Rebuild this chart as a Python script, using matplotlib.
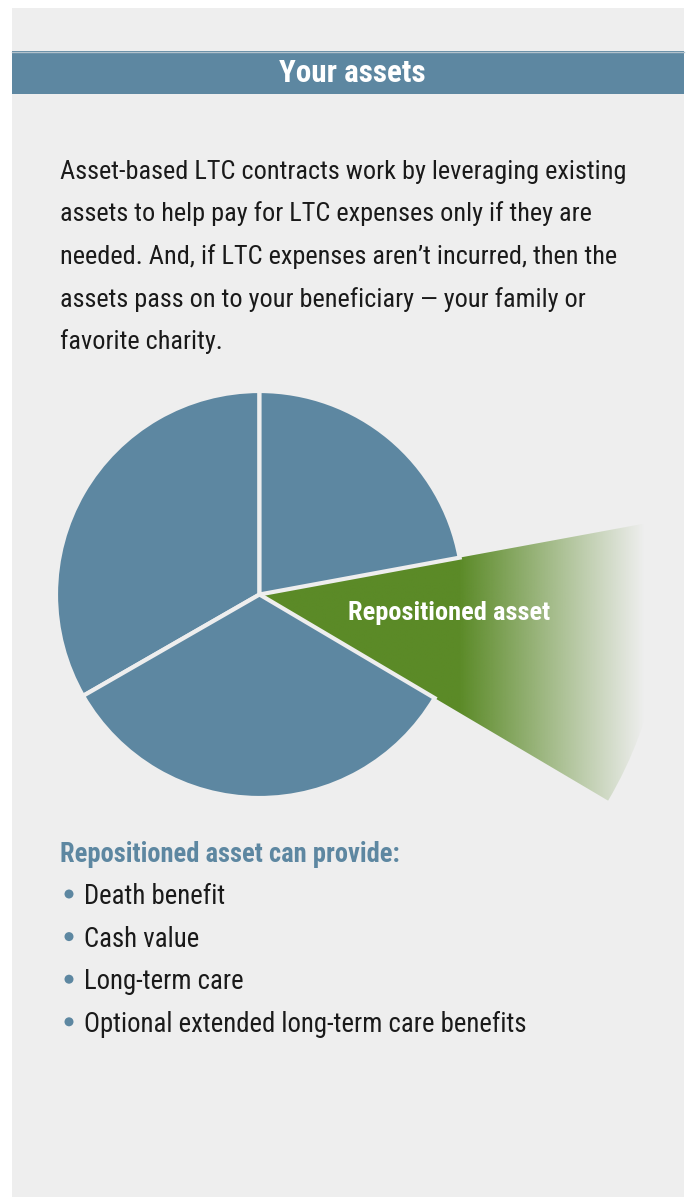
import numpy as np
import matplotlib
matplotlib.use("Agg")
import matplotlib.pyplot as plt
from matplotlib.patches import Rectangle, Circle
from matplotlib import font_manager as fm

# ---------------- data ----------------
title = "Your assets"
paragraph_lines = [
    "Asset-based LTC contracts work by leveraging existing",
    "assets to help pay for LTC expenses only if they are",
    "needed. And, if LTC expenses aren\u2019t incurred, then the",
    "assets pass on to your beneficiary \u2014 your family or",
    "favorite charity.",
]
slice_names = ["Other assets 1", "Other assets 2", "Repositioned asset", "Other assets 3"]
slice_shares = [33.3, 33.2, 11.4, 22.1]
list_heading = "Repositioned asset can provide:"
benefits = ["Death benefit", "Cash value", "Long-term care",
            "Optional extended long-term care benefits"]

# ---------------- style ----------------
W, H = 688, 1197
BLUE = "#5d87a1"
GREEN = "#5b8a27"
PANEL = "#eeeeee"
TEXT = "#1a1a1a"

fonts = [(f.name, f.fname, f.weight, f.stretch) for f in fm.fontManager.ttflist]
cands = [f for f in fonts if ("narrow" in f[1].lower() or "condensed" in f[1].lower()
                              or "Narrow" in f[0] or "Condensed" in f[0])]


def pick(bold):
    pref = ["liberationsansnarrow", "robotocondensed", "opensanscondensed", "dejavusanscondensed"]
    for p in pref:
        for f in cands:
            fn = f[1].split("/")[-1].lower().replace("-", "").replace("_", "")
            if fn.startswith(p):
                isb = "bold" in fn
                isi = "italic" in fn or "oblique" in fn
                if isb == bold and not isi:
                    return fm.FontProperties(fname=f[1])
    return fm.FontProperties(family="DejaVu Sans", weight="bold" if bold else "normal",
                             stretch="condensed")


FP = pick(False)
FPB = pick(True)

fig = plt.figure(figsize=(W / 100, H / 100), dpi=100)
fig.patch.set_facecolor("white")
ax = fig.add_axes([0, 0, 1, 1])


def Y(y):
    return H - y


# panel + header
ax.add_patch(Rectangle((12, 0), 672, H - 8, facecolor=PANEL, edgecolor="none", zorder=0))
ax.add_patch(Rectangle((12, Y(94)), 672, 43, facecolor=BLUE, edgecolor="none", zorder=1))
ax.plot([12, 684], [Y(51.5)] * 2, color="#b3c2cc", lw=1, zorder=2)
ax.text(352, Y(73), title, color="white", fontproperties=FPB, fontsize=22.4,
        ha="center", va="center", zorder=3)

# paragraph
for i, line in enumerate(paragraph_lines):
    ax.text(60, Y(179 + i * 42.5), line, color=TEXT, fontproperties=FP, fontsize=18.9,
            ha="left", va="baseline")

# pie
cx, cy, r = 259.5, Y(594.5), 203.5
wedges, _ = ax.pie(slice_shares, startangle=90, counterclock=True,
                   center=(cx, cy), radius=r,
                   colors=[BLUE, BLUE, GREEN, BLUE],
                   wedgeprops=dict(edgecolor=PANEL, linewidth=3))
for w in wedges:
    w.set_zorder(5)
g = wedges[2]
g.set_radius(405)
g.set_facecolor("none")
g.set_edgecolor("none")
g.set_zorder(3)

# horizontal fade gradient for the repositioned slice
x0, x1 = 250, 660
nx = 400
xs = np.linspace(x0, x1, nx)
alpha = np.clip((645 - xs) / (645 - 460), 0, 1)
rgb = np.array(matplotlib.colors.to_rgb(GREEN))
img = np.zeros((2, nx, 4))
img[..., :3] = rgb
img[..., 3] = alpha
im = ax.imshow(img, extent=(x0, x1, Y(830), Y(500)), aspect="auto",
               interpolation="bilinear", zorder=4)
im.set_clip_path(g)

ax.text(348, Y(620), slice_names[2], color="white", fontproperties=FPB, fontsize=19,
        ha="left", va="baseline", zorder=6)

# list
ax.text(60, Y(862), list_heading, color=BLUE, fontproperties=FPB, fontsize=19.1,
        ha="left", va="baseline")
for i, b in enumerate(benefits):
    yb = 904 + i * 42.6
    ax.add_patch(Circle((69, Y(yb - 10)), 4.5, facecolor=BLUE, edgecolor="none"))
    ax.text(84, Y(yb), b, color=TEXT, fontproperties=FP, fontsize=19.3, ha="left",
            va="baseline")

ax.set_xlim(0, W)
ax.set_ylim(0, H)
ax.set_aspect("equal")
ax.axis("off")
fig.savefig("out.png", dpi=100, facecolor="white")
